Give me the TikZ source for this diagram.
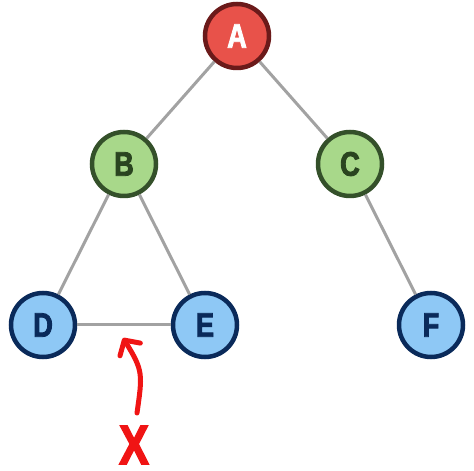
\documentclass[tikz,border=0pt]{standalone}
\usepackage{fontspec}
\usetikzlibrary{positioning,arrows.meta}
\newfontfamily\treefont[FakeStretch=0.8,BoldFeatures={FakeBold=2.5}]{Liberation Sans}

\definecolor{redfill}{HTML}{E8524A}
\definecolor{redline}{HTML}{6B1A1A}
\definecolor{greenfill}{HTML}{A8D88A}
\definecolor{greenline}{HTML}{34502A}
\definecolor{greentext}{HTML}{2A4420}
\definecolor{bluefill}{HTML}{8EC8F5}
\definecolor{blueline}{HTML}{0A2A5A}
\definecolor{edgegrey}{HTML}{A2A2A2}
\definecolor{markred}{HTML}{F01414}

\tikzset{
  vertex/.style={circle,minimum size=64pt,inner sep=0pt,line width=4.5pt,
    font=\treefont\bfseries\fontsize{34}{34}\selectfont},
  rootv/.style={vertex,draw=redline,fill=redfill,text=white},
  midv/.style={vertex,draw=greenline,fill=greenfill,text=greentext},
  leafv/.style={vertex,draw=blueline,fill=bluefill,text=blueline},
  treeedge/.style={draw=edgegrey,line width=3pt},
  cut/.style={draw=markred,line width=5pt,line cap=round,
    -{Straight Barb[length=11pt,width=24pt,line width=5pt,round]}}
}

\begin{document}
\begin{tikzpicture}[x=1pt,y=1pt,on grid]
\useasboundingbox (0,0) rectangle (474,471);

\node[rootv] (A) at (237,435)                           {A};
\node[midv]  (B) [below left=128pt and 113pt of A]      {B};
\node[midv]  (C) [below right=128pt and 113pt of A]     {C};
\node[leafv] (D) [below left=161pt and 81pt of B]       {D};
\node[leafv] (E) [below right=161pt and 81pt of B]      {E};
\node[leafv] (F) [below right=161pt and 81pt of C]      {F};

\node[text=markred,inner sep=0pt,
  font=\treefont\bfseries\fontsize{56}{56}\selectfont]
  (X) at (134,26) {X};
\coordinate (tail) at (137,58);
\coordinate (hit)  at (123,133);

% edges of the tree
\path[treeedge]
(A) edge (B)
    edge (C)
(B) edge (D)
    edge (E)
(C) edge (F)
(D) edge (E);

\draw[cut] (tail) to[out=82,in=-58,looseness=1.3] (hit);

\end{tikzpicture}
\end{document}
